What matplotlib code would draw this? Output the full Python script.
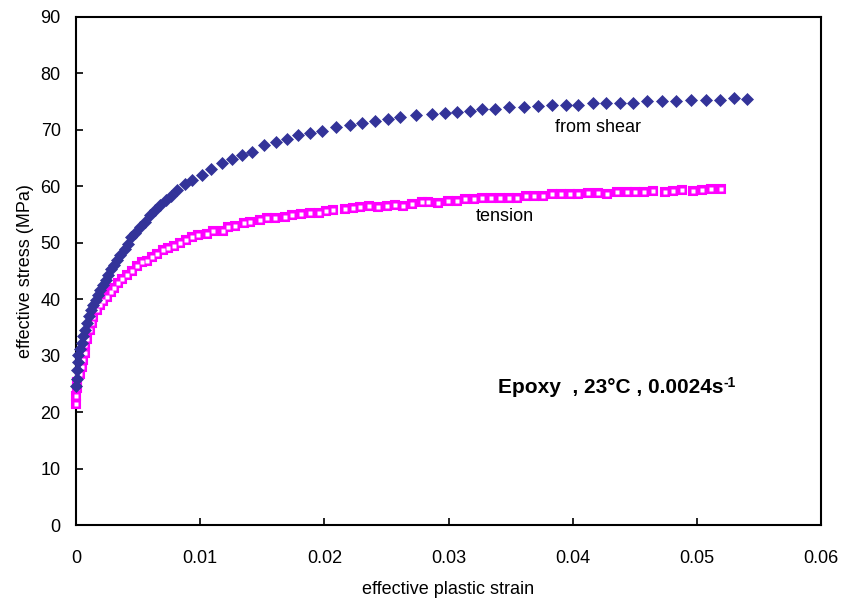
import matplotlib
matplotlib.use("Agg")
import matplotlib.pyplot as plt

plt.rcParams['font.family'] = ['Liberation Sans', 'DejaVu Sans']

shear_strain = [0.0, 0.00004, 0.00008, 0.00012, 0.00016, 0.00032, 0.00048, 0.00056, 0.00072, 0.00089,
                0.00105, 0.00121, 0.00137, 0.00161, 0.00177, 0.00193, 0.00217, 0.00242, 0.00258, 0.00282,
                0.00306, 0.00330, 0.00354, 0.00395, 0.00419, 0.00443, 0.00475, 0.00515, 0.00556, 0.00596,
                0.00636, 0.00677, 0.00725, 0.00765, 0.00813, 0.00878, 0.00934, 0.01015, 0.01087, 0.01176,
                0.01256, 0.01337, 0.01418, 0.01514, 0.01611, 0.01699, 0.01788, 0.01885, 0.01981, 0.02094,
                0.02207, 0.02303, 0.02408, 0.02513, 0.02609, 0.02738, 0.02867, 0.02972, 0.03069, 0.03173,
                0.03270, 0.03375, 0.03487, 0.03608, 0.03721, 0.03834, 0.03946, 0.04043, 0.04164, 0.04269,
                0.04381, 0.04486, 0.04599, 0.04720, 0.04832, 0.04953, 0.05074, 0.05187, 0.05300, 0.05404]
shear_stress = [24.6, 25.9, 27.5, 28.9, 30.1, 31.2, 32.2, 33.5, 34.6, 35.8,
                37.0, 38.1, 39.0, 39.9, 40.8, 41.6, 42.5, 43.4, 44.3, 45.4,
                46.1, 47.0, 47.8, 48.9, 49.8, 51.0, 51.7, 52.8, 53.7, 54.9,
                55.8, 56.7, 57.6, 58.3, 59.4, 60.4, 61.1, 62.0, 63.1, 64.1,
                64.8, 65.6, 66.1, 67.3, 67.9, 68.4, 69.1, 69.5, 69.8, 70.5,
                70.9, 71.2, 71.6, 71.9, 72.3, 72.6, 72.8, 73.0, 73.2, 73.4,
                73.7, 73.7, 74.1, 74.1, 74.2, 74.4, 74.4, 74.4, 74.8, 74.8,
                74.8, 74.8, 75.1, 75.1, 75.1, 75.3, 75.3, 75.3, 75.7, 75.5]

tension_strain = [0.0, 0.00002, 0.00008, 0.00010, 0.00032, 0.00048, 0.00056, 0.00072, 0.00074, 0.00089,
                  0.00113, 0.00129, 0.00137, 0.00169, 0.00193, 0.00217, 0.00250, 0.00282, 0.00306, 0.00338,
                  0.00370, 0.00411, 0.00451, 0.00491, 0.00532, 0.00572, 0.00612, 0.00652, 0.00701, 0.00741,
                  0.00789, 0.00838, 0.00886, 0.00934, 0.00983, 0.01055, 0.01103, 0.01184, 0.01224, 0.01281,
                  0.01353, 0.01401, 0.01482, 0.01538, 0.01603, 0.01683, 0.01740, 0.01812, 0.01885, 0.01957,
                  0.02014, 0.02070, 0.02167, 0.02231, 0.02287, 0.02360, 0.02432, 0.02505, 0.02569, 0.02634,
                  0.02706, 0.02787, 0.02835, 0.02916, 0.02996, 0.03069, 0.03133, 0.03206, 0.03270, 0.03342,
                  0.03415, 0.03487, 0.03552, 0.03624, 0.03689, 0.03761, 0.03834, 0.03906, 0.03979, 0.04043,
                  0.04124, 0.04204, 0.04277, 0.04357, 0.04438, 0.04502, 0.04575, 0.04647, 0.04744, 0.04808,
                  0.04881, 0.04969, 0.05042, 0.05114, 0.05195]
tension_stress = [21.4, 22.9, 24.3, 25.3, 26.8, 28.0, 29.2, 30.5, 31.9, 33.0,
                  34.5, 35.8, 36.9, 38.1, 39.0, 39.7, 40.4, 41.3, 42.0, 42.9,
                  43.6, 44.3, 45.0, 45.9, 46.6, 46.8, 47.5, 48.0, 48.7, 49.1,
                  49.4, 50.0, 50.5, 51.0, 51.4, 51.6, 52.1, 52.1, 52.8, 53.0,
                  53.5, 53.7, 54.0, 54.4, 54.4, 54.6, 54.9, 55.1, 55.3, 55.3,
                  55.6, 55.8, 56.0, 56.2, 56.3, 56.5, 56.3, 56.5, 56.7, 56.5,
                  56.9, 57.2, 57.2, 57.1, 57.4, 57.4, 57.8, 57.8, 57.9, 57.9,
                  57.9, 57.9, 57.9, 58.3, 58.3, 58.3, 58.6, 58.6, 58.6, 58.6,
                  58.8, 58.8, 58.6, 59.0, 59.0, 59.0, 59.0, 59.2, 59.0, 59.2,
                  59.4, 59.2, 59.4, 59.5, 59.5]

x_ticks = [0, 0.01, 0.02, 0.03, 0.04, 0.05, 0.06]
x_tick_labels = ['0', '0.01', '0.02', '0.03', '0.04', '0.05', '0.06']
y_ticks = [0, 10, 20, 30, 40, 50, 60, 70, 80, 90]

fig = plt.figure(figsize=(8.41, 6.02), dpi=100)
ax = fig.add_axes([0.0904, 0.1279, 0.8858, 0.8439])

ax.plot(tension_strain, tension_stress, linestyle='none', marker='s', markersize=5.5,
        markerfacecolor='#ff00ff', markeredgecolor='#ff00ff', markeredgewidth=1.5, clip_on=False, zorder=3)
ax.plot(tension_strain, tension_stress, linestyle='none', marker='s', markersize=2.2,
        markerfacecolor='white', markeredgecolor='none', clip_on=False, zorder=3.5)
ax.plot(shear_strain, shear_stress, linestyle='none', marker='D', markersize=6.5,
        markerfacecolor='#333399', markeredgecolor='#333399', markeredgewidth=0.5, clip_on=False, zorder=4)

ax.set_xlim(0, 0.06)
ax.set_ylim(0, 90)
ax.set_xticks(x_ticks)
ax.set_xticklabels(x_tick_labels)
ax.set_yticks(y_ticks)

for s in ax.spines.values():
    s.set_linewidth(1.5)
    s.set_color('black')

ax.tick_params(axis='x', direction='in', length=5, width=1.2, labelsize=13, pad=18)
ax.tick_params(axis='y', direction='in', length=5, width=1.2, labelsize=13, pad=11)

ax.set_xlabel('effective plastic strain', fontsize=13, labelpad=10)
ax.set_ylabel('effective stress (MPa)', fontsize=13, labelpad=5)

ax.text(0.03858, 70.5, 'from shear', fontsize=13, va='center', ha='left')
ax.text(0.03222, 54.7, 'tension', fontsize=13, va='center', ha='left')
main = ax.text(0.0340, 24.4, 'Epoxy  , 23°C , 0.0024s', fontsize=15, fontweight='bold',
               va='center', ha='left')
ax.annotate('-1', xy=(1.0, 1.0), xycoords=main, xytext=(0, 1), textcoords='offset points',
            fontsize=10, fontweight='bold', va='top', ha='left')

fig.savefig('out.png', dpi=100)
